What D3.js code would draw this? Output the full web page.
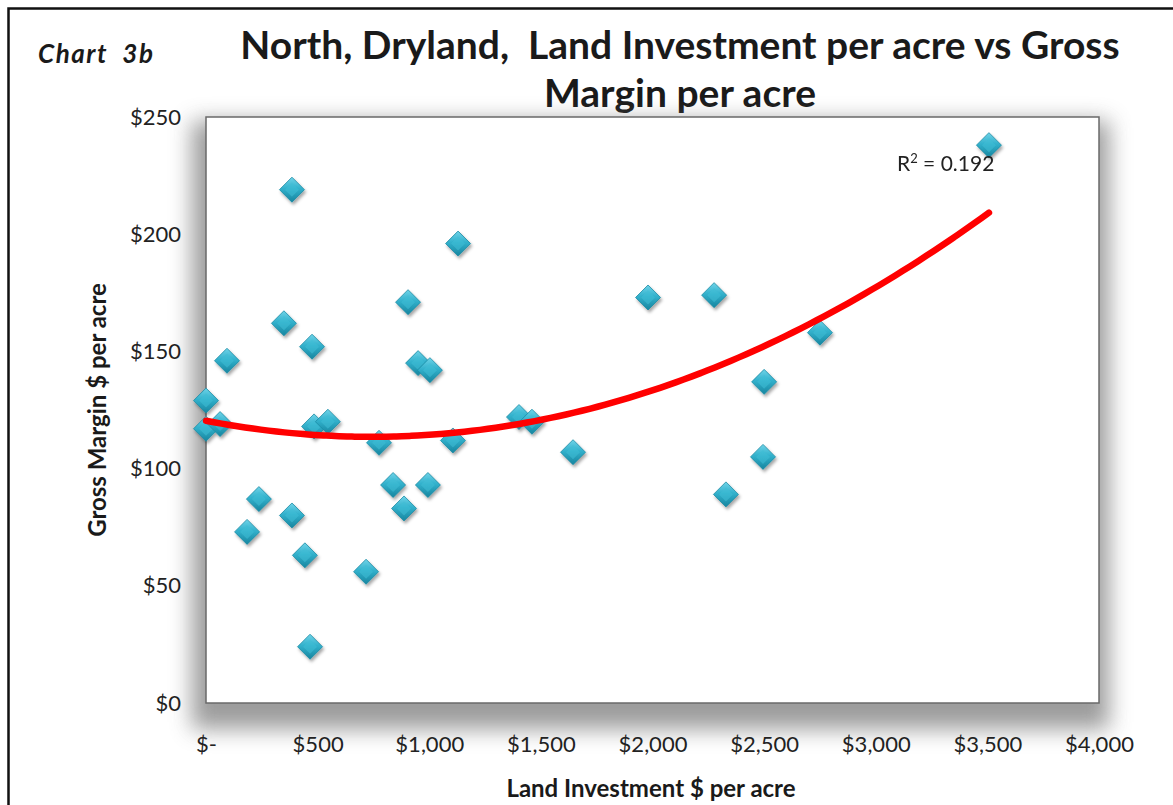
<!DOCTYPE html>
<html>
<head>
<meta charset="utf-8">
<script src="https://cdn.jsdelivr.net/npm/d3@7"></script>
<style>
  html, body { margin: 0; padding: 0; background: #fff; }
  svg { display: block; }
  text { font-family: Lato, "Open Sans", sans-serif; fill: #1a1a1a; }
</style>
</head>
<body>
<svg id="chart" width="1173" height="805"></svg>
<script>
// Land investment ($ per acre) and gross margin ($ per acre) for each farm
const landInvestment = [0, 0, 63, 94, 184, 237, 385, 349, 385, 443, 466, 475, 484, 546,
  717, 775, 838, 887, 905, 950, 1003, 994, 1106, 1129, 1402, 1460, 1644, 1980, 2276,
  2329, 2500, 2495, 2750, 3507];
const grossMargin = [129, 117, 119, 146, 73, 87, 219, 162, 80, 63, 24, 152, 118, 120,
  56, 111, 93, 83, 171, 145, 142, 93, 112, 196, 122, 120, 107, 173, 174, 89, 137, 105,
  158, 238];

const xTicks = [0, 500, 1000, 1500, 2000, 2500, 3000, 3500, 4000];
const yTicks = [0, 50, 100, 150, 200, 250];
const rSquared = 0.192;

const svg = d3.select("#chart");
const W = 1173, H = 805;
const plot = { left: 206, top: 117, right: 1099, bottom: 703 };

const x = d3.scaleLinear().domain([0, 4000]).range([plot.left, plot.right]);
const y = d3.scaleLinear().domain([0, 250]).range([plot.bottom, plot.top]);

const defs = svg.append("defs");

// soft shadow around the plot area
const plotShadow = defs.append("filter").attr("id", "plotShadow")
  .attr("x", "-10%").attr("y", "-10%").attr("width", "120%").attr("height", "125%");
plotShadow.append("feGaussianBlur").attr("stdDeviation", 11);

// diamond marker fill and drop shadow
const grad = defs.append("linearGradient").attr("id", "diamondFill")
  .attr("x1", "0").attr("y1", "0").attr("x2", "0").attr("y2", "1");
grad.append("stop").attr("offset", "0%").attr("stop-color", "#6fd3e8");
grad.append("stop").attr("offset", "45%").attr("stop-color", "#32b1cc");
grad.append("stop").attr("offset", "100%").attr("stop-color", "#17859f");

const markShadow = defs.append("filter").attr("id", "markShadow")
  .attr("x", "-50%").attr("y", "-50%").attr("width", "200%").attr("height", "200%");
markShadow.append("feDropShadow").attr("dx", 1.5).attr("dy", 2.5)
  .attr("stdDeviation", 1.6).attr("flood-color", "#000").attr("flood-opacity", 0.35);

// outer chart frame
svg.append("path")
  .attr("d", `M8.5,${H} V8.5 H${W}`)
  .attr("fill", "none").attr("stroke", "#111").attr("stroke-width", 2.5);

// Chart label and title
svg.append("text").attr("x", 38).attr("y", 63)
  .attr("xml:space", "preserve").style("white-space", "pre")
  .style("font-size", "26px").style("font-style", "italic").style("font-weight", 700)
  .style("letter-spacing", "1.5px")
  .text("Chart  3b");

const title = svg.append("text").attr("text-anchor", "middle")
  .style("font-size", "39px").style("font-weight", 700)
  .attr("xml:space", "preserve").style("white-space", "pre");
title.append("tspan").attr("x", 680).attr("y", 59)
  .text("North, Dryland,  Land Investment per acre vs Gross");
title.append("tspan").attr("x", 680).attr("y", 107).text("Margin per acre");

// plot area with shadow
svg.append("rect")
  .attr("x", plot.left - 14).attr("y", plot.top + 4)
  .attr("width", plot.right - plot.left + 24).attr("height", plot.bottom - plot.top + 22)
  .attr("fill", "#7a7a7a").attr("opacity", 0.75)
  .attr("filter", "url(#plotShadow)");
svg.append("rect")
  .attr("x", plot.left).attr("y", plot.top)
  .attr("width", plot.right - plot.left).attr("height", plot.bottom - plot.top)
  .attr("fill", "#fff").attr("stroke", "#6a6a6a").attr("stroke-width", 1.5);

// axes
const fmtX = d => d === 0 ? "$-" : "$" + d3.format(",")(d);
const yAxis = svg.append("g").attr("transform", `translate(${plot.left},0)`)
  .call(d3.axisLeft(y).tickValues(yTicks).tickSize(0).tickPadding(25)
    .tickFormat(d => "$" + d));
const xAxis = svg.append("g").attr("transform", `translate(0,${plot.bottom})`)
  .call(d3.axisBottom(x).tickValues(xTicks).tickSize(0).tickPadding(33)
    .tickFormat(fmtX));
[yAxis, xAxis].forEach(g => {
  g.select(".domain").remove();
  g.selectAll("text").style("font-size", "22px").style("fill", "#222")
    .style("font-family", "Lato, sans-serif");
});

// axis titles
svg.append("text").attr("x", 651).attr("y", 797).attr("text-anchor", "middle")
  .style("font-size", "24px").style("font-weight", 700)
  .text("Land Investment $ per acre");
svg.append("text").attr("transform", "translate(106,410) rotate(-90)")
  .attr("text-anchor", "middle")
  .style("font-size", "24px").style("font-weight", 700)
  .text("Gross Margin $ per acre");

// points
const pts = landInvestment.map((v, i) => ({ x: v, y: grossMargin[i] }));
const diamond = "M0,-12.5 L12.5,0 L0,12.5 L-12.5,0 Z";
const marks = svg.append("g").attr("filter", "url(#markShadow)");
marks.selectAll("g.pt").data(pts).join("g")
  .attr("class", "pt")
  .attr("transform", d => `translate(${x(d.x)},${y(d.y)})`)
  .each(function () {
    const g = d3.select(this);
    g.append("path").attr("d", diamond).attr("fill", "url(#diamondFill)")
      .attr("stroke", "#1a8aa3").attr("stroke-width", 0.8);
    g.append("path").attr("d", "M0,-7 L7,0 L0,7 L-7,0 Z")
      .attr("fill", "#3fbdd6").attr("opacity", 0.55);
  });

// quadratic least-squares trendline through the points
function polyFit2(xs, ys) {
  const n = xs.length;
  let s = [0, 0, 0, 0, 0], t = [0, 0, 0];
  for (let i = 0; i < n; i++) {
    let p = 1;
    for (let k = 0; k < 5; k++) { s[k] += p; if (k < 3) t[k] += p * ys[i]; p *= xs[i]; }
  }
  const A = [[s[0], s[1], s[2], t[0]], [s[1], s[2], s[3], t[1]], [s[2], s[3], s[4], t[2]]];
  for (let c = 0; c < 3; c++) {
    for (let r = c + 1; r < 3; r++) {
      const f = A[r][c] / A[c][c];
      for (let k = c; k < 4; k++) A[r][k] -= f * A[c][k];
    }
  }
  const coef = [0, 0, 0];
  for (let r = 2; r >= 0; r--) {
    let v = A[r][3];
    for (let k = r + 1; k < 3; k++) v -= A[r][k] * coef[k];
    coef[r] = v / A[r][r];
  }
  return coef;
}
const [c0, c1, c2] = polyFit2(landInvestment, grossMargin);
const xMin = d3.min(landInvestment), xMax = d3.max(landInvestment);
const trend = d3.range(0, 101).map(i => {
  const xv = xMin + (xMax - xMin) * i / 100;
  return [xv, c0 + c1 * xv + c2 * xv * xv];
});
svg.append("path")
  .datum(trend)
  .attr("d", d3.line().x(d => x(d[0])).y(d => y(d[1])).curve(d3.curveBasis))
  .attr("fill", "none").attr("stroke", "#ff0000").attr("stroke-width", 6.5)
  .attr("stroke-linecap", "round");

// R² label
const rl = svg.append("text").attr("x", 897).attr("y", 171)
  .style("font-size", "21px").style("fill", "#222");
rl.append("tspan").text("R");
rl.append("tspan").attr("dy", -8).style("font-size", "13px").text("2");
rl.append("tspan").attr("dy", 8).text(" = " + rSquared.toFixed(3));
</script>
</body>
</html>
